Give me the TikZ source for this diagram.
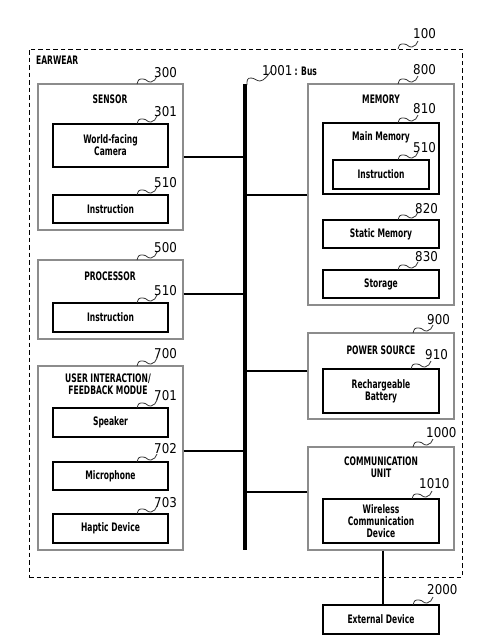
\documentclass[tikz,border=0pt]{standalone}
\usepackage{fontspec}
\setmainfont{DejaVu Sans}
\newfontfamily\cnd[FakeStretch=0.72]{DejaVu Sans Condensed}
\newfontfamily\numf[FakeStretch=0.88]{DejaVu Sans}
\usetikzlibrary{calc}
\tikzset{
  obox/.style={draw=black!45, line width=1.1pt, inner sep=0pt},
  ibox/.style={draw=black, line width=1.7pt, inner sep=0pt, align=center,
    font=\cnd\bfseries\fontsize{11.7}{12}\selectfont},
  ttl/.style={font=\cnd\bfseries\fontsize{11.7}{12}\selectfont, align=center, inner sep=0pt},
  num/.style={font=\numf\fontsize{13.5}{14}\selectfont, inner sep=0pt, anchor=base west},
  squig/.style={line width=0.8pt, black!80},
  conn/.style={line width=2pt},
  busline/.style={line width=4.5pt},
  dbox/.style={draw=black, line width=1pt, dash pattern=on 4.5pt off 3pt, inner sep=0pt},
}
\newcommand\sqg[1]{\draw[squig] (#1) .. controls +(1.5,-5) and +(-4,0) .. ++(6,-5) .. controls +(4,0) and +(-4,0.5) .. ++(8,3) .. controls +(3,-0.5) and +(-1,3) .. ++(6,-6);}
\begin{document}
\begin{tikzpicture}[x=1pt,y=-1pt]
\useasboundingbox (0,0) rectangle (495,643);
% outer dashed box
\node[dbox, minimum width=433pt, minimum height=528pt] (ear) at (245.5,313) {};
\node[ttl, anchor=west] (eartxt) at (36,60) {EARWEAR};
% left column
\node[obox, minimum width=145pt, minimum height=146pt] (S) at (110.5,157) {};
\node[ttl] (Stxt) at (110,99) {SENSOR};
\node[ibox, minimum width=115pt, minimum height=43pt] (cam) at (110.5,145.5) {World-facing\\Camera};
\node[ibox, minimum width=115pt, minimum height=28pt] (ins1) at (110.5,209) {Instruction};
\node[obox, minimum width=145pt, minimum height=79pt] (P) at (110.5,299.5) {};
\node[ttl] (Ptxt) at (110,276) {PROCESSOR};
\node[ibox, minimum width=115pt, minimum height=29pt] (ins2) at (110.5,317.5) {Instruction};
\node[obox, minimum width=145pt, minimum height=184pt] (U) at (110.5,458) {};
\node[ttl] (Utxt) at (108,384) {USER INTERACTION/\\FEEDBACK MODUE};
\node[ibox, minimum width=115pt, minimum height=29pt] (spk) at (110.5,422.5) {Speaker};
\node[ibox, minimum width=115pt, minimum height=28pt] (mic) at (110.5,476) {Microphone};
\node[ibox, minimum width=115pt, minimum height=29pt] (hap) at (110.5,528.5) {Haptic Device};
% right column
\node[obox, minimum width=146pt, minimum height=221pt] (M) at (381,194.5) {};
\node[ttl] (Mtxt) at (381,99) {MEMORY};
\node[ibox, minimum width=116pt, minimum height=71pt] (mm) at (381,158.5) {};
\node[ttl] (mmtxt) at (381,137) {Main Memory};
\node[ibox, minimum width=96pt, minimum height=29pt] (ins3) at (381,174.5) {Instruction};
\node[ibox, minimum width=116pt, minimum height=28pt] (stat) at (381,234) {Static Memory};
\node[ibox, minimum width=116pt, minimum height=28pt] (stor) at (381,284) {Storage};
\node[obox, minimum width=146pt, minimum height=86pt] (W) at (381,376) {};
\node[ttl] (Wtxt) at (381,350) {POWER SOURCE};
\node[ibox, minimum width=116pt, minimum height=44pt] (bat) at (381,391) {Rechargeable\\Battery};
\node[obox, minimum width=146pt, minimum height=103pt] (C) at (381,498.5) {};
\node[ttl] (Ctxt) at (381,467.5) {COMMUNICATION\\UNIT};
\node[ibox, minimum width=116pt, minimum height=44pt] (wcd) at (381,521) {Wireless\\Communication\\Device};
\node[ibox, minimum width=116pt, minimum height=29pt] (ext) at (381,619.5) {External Device};
% bus
\coordinate (bustop) at (245,84);
\coordinate (busbot) at (245,550);
\draw[busline] (bustop) -- (busbot);
\draw[conn] (S.east) -- (S.east -| bustop);
\draw[conn] ([yshift=5.5pt]P.east) -- ([yshift=5.5pt]P.east -| bustop);
\draw[conn] ([yshift=7pt]U.east) -- ([yshift=7pt]U.east -| bustop);
\draw[conn] (M.west) -- (M.west -| bustop);
\draw[conn] ([yshift=5pt]W.west) -- ([yshift=5pt]W.west -| bustop);
\draw[conn] ([yshift=6.5pt]C.west) -- ([yshift=6.5pt]C.west -| bustop);
\draw[conn] ([xshift=2pt]C.south) -- ([xshift=2pt]ext.north);
% labels
\node[num] (t1001) at (262,75) {1001\,{\cnd\bfseries\fontsize{11.7}{12}\selectfont : Bus}};
\coordinate (s1001) at (247,85);
\draw[squig] (s1001) .. controls +(0,-5) and +(-4,0) .. ++(4,-7) .. controls +(4,0) and +(-4,0) .. ++(9,3) .. controls +(4,0) and +(-2,3) .. ++(11,-10);
\foreach \nm/\sx/\sy in {
  100/398/49, 300/137/84, 301/137/124, 510a/137/195,
  500/137/260, 510b/137/303, 700/137/366, 701/137/408,
  702/137/462, 703/137/514, 800/398/84, 810/398/123,
  510c/398/160, 820/398/220, 830/398/270, 900/413/333,
  910/411/369, 1000/413/447, 1010/412/499, 2000/413/605}{
  \coordinate (s\nm) at (\sx,\sy);
  \sqg{s\nm}
}
\node[num] (t100) at (413,38) {100};
\node[num] (t300) at (154,77) {300};
\node[num] (t301) at (154,116) {301};
\node[num] (t510a) at (154,187) {510};
\node[num] (t500) at (154,252) {500};
\node[num] (t510b) at (154,295) {510};
\node[num] (t700) at (154,358) {700};
\node[num] (t701) at (154,400) {701};
\node[num] (t702) at (154,453) {702};
\node[num] (t703) at (154,507) {703};
\node[num] (t800) at (413,74) {800};
\node[num] (t810) at (413,113) {810};
\node[num] (t510c) at (413,152) {510};
\node[num] (t820) at (415,213) {820};
\node[num] (t830) at (415,261) {830};
\node[num] (t900) at (427,324) {900};
\node[num] (t910) at (425,359) {910};
\node[num] (t1000) at (426,437) {1000};
\node[num] (t1010) at (419,488) {1010};
\node[num] (t2000) at (427,594) {2000};
\end{tikzpicture}
\end{document}
